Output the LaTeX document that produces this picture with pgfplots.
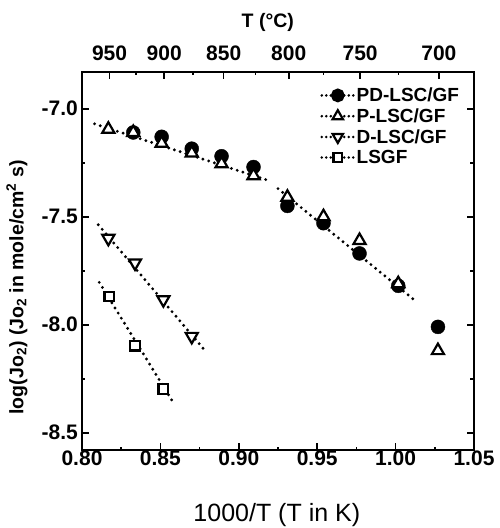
\documentclass[border=0pt]{standalone}
\usepackage{fontspec}
\setmainfont{Liberation Sans}
\usepackage{pgfplots}
\pgfplotsset{compat=1.18}

\pgfplotsset{
  refframe/.style={
    scale only axis, width=392pt, height=378pt,
    xmin=0.80, xmax=1.05, ymin=-8.58, ymax=-6.83,
    axis line style={line width=2.2pt},
    every tick/.style={line width=1.6pt, black},
    major tick length=7pt, minor tick length=3.5pt,
    tick align=inside,
    /pgf/number format/assume math mode=true,
    tick label style={font=\fontsize{21}{21}\selectfont\bfseries},
  },
  dotfit/.style={black, line width=3.2pt, line cap=round, dash pattern=on 0pt off 6pt},
  legline/.style={black, line width=2.8pt, line cap=round, dash pattern=on 0pt off 4.5pt},
}

\begin{document}
\begin{tikzpicture}
\begin{axis}[refframe, name=main,
    xtick={0.80,0.85,0.90,0.95,1.00,1.05},
    minor xtick={0.825,0.875,0.925,0.975,1.025},
    xtick pos=left,
    ytick={-8.5,-8.0,-7.5,-7.0},
    minor ytick={-8.25,-7.75,-7.25},
    ytick pos=both,
    xticklabel style={inner sep=1pt, /pgf/number format/.cd, fixed, fixed zerofill, precision=2},
    yticklabel style={inner sep=4pt, /pgf/number format/.cd, fixed, fixed zerofill, precision=1},
    xlabel={1000/T (T in K)},
    xlabel style={font=\fontsize{25}{25}\selectfont, at={(axis description cs:0.497,-0.172)}, anchor=center},
    ylabel={\textbf{log(Jo\textsubscript{2}) (Jo\textsubscript{2} in mole/cm\textsuperscript{2} s)}},
    ylabel style={font=\fontsize{19.5}{19.5}\selectfont, at={(axis description cs:-0.166,0.43)}, anchor=center},
    legend style={at={(axis description cs:0.600,0.968)}, anchor=north west,
      draw=none, fill=none, font=\fontsize{19}{19}\selectfont\bfseries,
      row sep=2.5pt, nodes={inner sep=1.5pt}},
    legend cell align=left,
    legend image code/.code={\draw[mark repeat=2, mark phase=2, #1] plot coordinates {(0pt,0pt) (16pt,0pt) (32pt,0pt)};},
  ]
  % fitted lines
  \addplot[dotfit, forget plot] coordinates {(0.808,-7.07) (0.918,-7.33)};
  \addplot[dotfit, forget plot] coordinates {(0.925,-7.37) (1.011,-7.88)};
  \addplot[dotfit, forget plot] coordinates {(0.8104,-7.537) (0.8785,-8.12)};
  \addplot[dotfit, forget plot] coordinates {(0.811,-7.804) (0.8582,-8.36)};
  % PD-LSC/GF
  \addplot[only marks, forget plot, mark=*, mark size=7pt, black] coordinates {
    (0.8327,-7.11) (0.8508,-7.13) (0.8700,-7.185) (0.8890,-7.22) (0.9094,-7.27)
    (0.9310,-7.45) (0.9540,-7.53) (0.9770,-7.67) (1.0017,-7.82) (1.0270,-8.01)};
  % P-LSC/GF
  \addplot[only marks, forget plot, mark=triangle*, mark size=7pt, black,
    mark options={fill=white, line width=2.2pt}] coordinates {
    (0.8168,-7.095) (0.8327,-7.11) (0.8508,-7.16) (0.8700,-7.205) (0.8890,-7.255)
    (0.9094,-7.31) (0.9310,-7.41) (0.9540,-7.50) (0.9770,-7.61) (1.0017,-7.81) (1.0270,-8.12)};
  % D-LSC/GF
  \addplot[only marks, forget plot, mark=triangle*, mark size=7pt, black,
    mark options={fill=white, line width=2.2pt, rotate=180}] coordinates {
    (0.8168,-7.60) (0.8338,-7.714) (0.8519,-7.884) (0.8700,-8.054)};
  % LSGF
  \addplot[only marks, forget plot, mark=square*, mark size=4.8pt, black,
    mark options={fill=white, line width=2.2pt}] coordinates {
    (0.8174,-7.869) (0.8338,-8.097) (0.8519,-8.298)};
  % legend
  \addlegendimage{legline, mark=*, mark size=5.5pt, mark options={solid}}
  \addlegendentry{PD-LSC/GF}
  \addlegendimage{legline, mark=triangle*, mark size=6pt, mark options={solid, fill=white, line width=2.2pt}}
  \addlegendentry{P-LSC/GF}
  \addlegendimage{legline, mark=triangle*, mark size=6pt, mark options={solid, fill=white, line width=2.2pt, rotate=180}}
  \addlegendentry{D-LSC/GF}
  \addlegendimage{legline, mark=square*, mark size=4.3pt, mark options={solid, fill=white, line width=2.2pt}}
  \addlegendentry{LSGF}
\end{axis}
\begin{axis}[refframe,
    axis x line*=top, hide y axis,
    xtick={0.81756,0.85241,0.89036,0.93184,0.97737,1.02759},
    xticklabels={950,900,850,800,750,700},
    minor xtick={0.83461,0.87097,0.91062,0.95406,1.00185},
    xticklabel style={yshift=8pt},
    title={\textbf{T (°C)}},
    title style={font=\fontsize{19.5}{19.5}\selectfont, at={(axis description cs:0.474,1.115)}, anchor=center},
  ]
\end{axis}
\pgfresetboundingbox
\path ([shift={(-82pt,-78pt)}]main.south west) rectangle ([shift={(418pt,450pt)}]main.south west);
\end{tikzpicture}
\end{document}
